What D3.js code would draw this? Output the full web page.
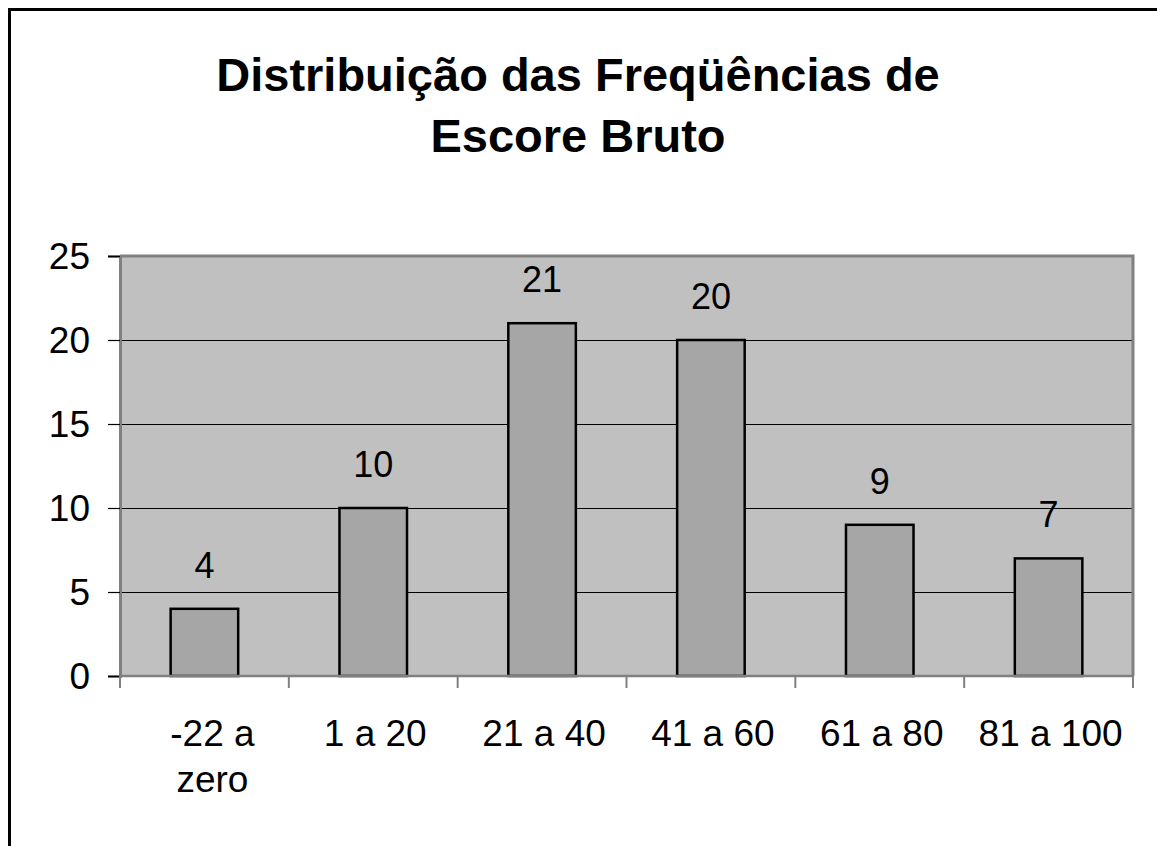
<!DOCTYPE html>
<html>
<head>
<meta charset="utf-8">
<script src="https://cdn.jsdelivr.net/npm/d3@7"></script>
<style>
  body { margin: 0; background: #fff; }
  svg { display: block; font-family: "Liberation Sans", Arial, sans-serif; }
</style>
</head>
<body>
<svg id="chart" width="1157" height="846"></svg>
<script>
// data
const categories = [["-22 a", "zero"], ["1 a 20"], ["21 a 40"], ["41 a 60"], ["61 a 80"], ["81 a 100"]];
const counts = [4, 10, 21, 20, 9, 7];
const yTicks = [0, 5, 10, 15, 20, 25];
const titleLines = ["Distribuição das Freqüências de", "Escore Bruto"];

const svg = d3.select("#chart");
const plot = { left: 120, right: 1133, top: 256, bottom: 676 };

// outer chart frame
svg.append("rect")
  .attr("x", 9.5).attr("y", 9.5)
  .attr("width", 1160).attr("height", 900)
  .attr("fill", "#fff")
  .attr("stroke", "#000").attr("stroke-width", 3);

// title
svg.append("text")
  .attr("x", 578).attr("y", 91)
  .attr("text-anchor", "middle")
  .attr("font-size", 47).attr("font-weight", "bold")
  .selectAll("tspan")
  .data(titleLines)
  .join("tspan")
  .attr("x", 578)
  .attr("dy", (d, i) => (i === 0 ? 0 : 61))
  .text((d) => d);

const x = d3.scaleBand()
  .domain(d3.range(categories.length))
  .range([plot.left, plot.right])
  .paddingInner(0.6)
  .paddingOuter(0.3);

const y = d3.scaleLinear().domain([0, 25]).range([plot.bottom, plot.top]);

// plot background
svg.append("rect")
  .attr("x", plot.left).attr("y", plot.top)
  .attr("width", plot.right - plot.left).attr("height", plot.bottom - plot.top)
  .attr("fill", "#c0c0c0");

// gridlines
svg.append("g")
  .selectAll("line")
  .data(yTicks.filter((t) => t > 0 && t < 25))
  .join("line")
  .attr("x1", plot.left).attr("x2", plot.right)
  .attr("y1", (d) => y(d) + 0.5).attr("y2", (d) => y(d) + 0.5)
  .attr("stroke", "#000").attr("stroke-width", 1);

// plot border (top, right)
svg.append("path")
  .attr("d", `M${plot.left},${plot.top}H${plot.right}V${plot.bottom}`)
  .attr("fill", "none")
  .attr("stroke", "#808080").attr("stroke-width", 3);

// bars
svg.append("g")
  .selectAll("rect")
  .data(counts)
  .join("rect")
  .attr("x", (d, i) => x(i))
  .attr("y", (d) => y(d))
  .attr("width", x.bandwidth())
  .attr("height", (d) => y(0) - y(d))
  .attr("fill", "#a6a6a6")
  .attr("stroke", "#000").attr("stroke-width", 2.5);

// value labels
svg.append("g")
  .selectAll("text")
  .data(counts)
  .join("text")
  .attr("x", (d, i) => x(i) + x.bandwidth() / 2)
  .attr("y", (d) => y(d) - 31)
  .attr("text-anchor", "middle")
  .attr("font-size", 36)
  .text((d) => d);

// y axis
const yAxis = svg.append("g")
  .attr("transform", `translate(${plot.left},0)`)
  .call(d3.axisLeft(y).tickValues(yTicks).tickSize(12).tickPadding(18));
yAxis.select(".domain").attr("stroke", "#808080").attr("stroke-width", 3);
yAxis.selectAll(".tick line").attr("stroke", "#000").attr("stroke-width", 1.2);
yAxis.selectAll(".tick text")
  .attr("font-size", 37)
  .attr("font-family", "Liberation Sans, Arial, sans-serif")
  .attr("fill", "#000")
  .attr("dy", "0.33em");

// x axis line and boundary ticks
const bounds = d3.range(categories.length + 1).map((i) => x.step() * i + plot.left);
svg.append("line")
  .attr("x1", plot.left).attr("x2", plot.right)
  .attr("y1", plot.bottom).attr("y2", plot.bottom)
  .attr("stroke", "#808080").attr("stroke-width", 2.5);
svg.append("g")
  .selectAll("line")
  .data(bounds)
  .join("line")
  .attr("x1", (d) => d).attr("x2", (d) => d)
  .attr("y1", plot.bottom).attr("y2", plot.bottom + 12)
  .attr("stroke", "#808080").attr("stroke-width", 2);

// category labels
svg.append("g")
  .selectAll("text")
  .data(categories)
  .join("text")
  .attr("y", 746)
  .attr("text-anchor", "middle")
  .attr("font-size", 37)
  .each(function (lines, i) {
    d3.select(this)
      .selectAll("tspan")
      .data(lines)
      .join("tspan")
      .attr("x", x(i) + x.bandwidth() / 2 + (lines.length > 1 ? 8 : 2))
      .attr("dy", (d, j) => (j === 0 ? 0 : 46))
      .text((d) => d);
  });
</script>
</body>
</html>
